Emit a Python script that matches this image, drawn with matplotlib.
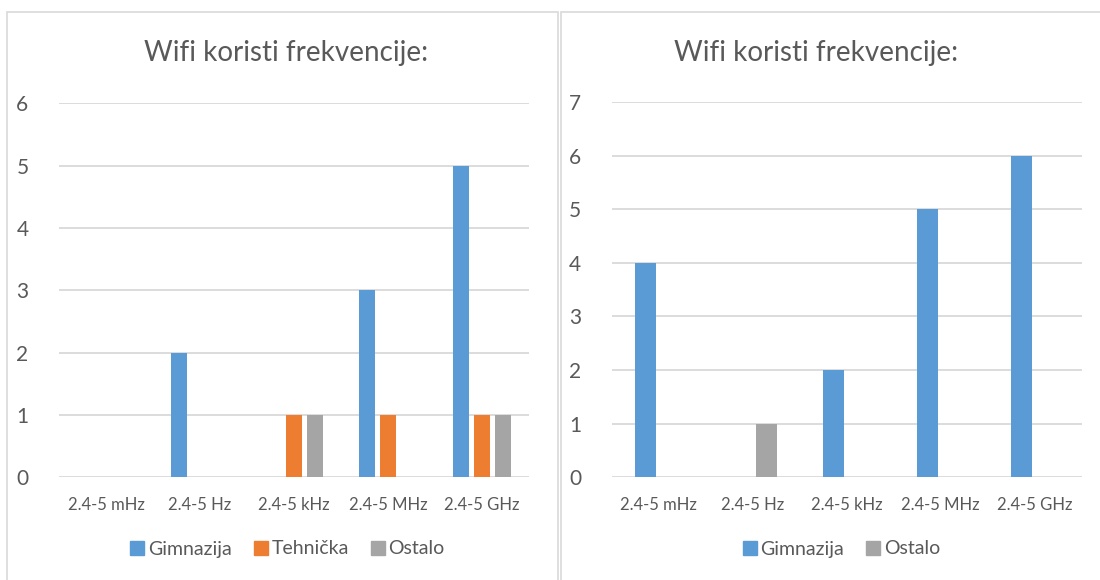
import numpy as np
import matplotlib.pyplot as plt
from matplotlib.patches import Rectangle
from matplotlib.lines import Line2D

# categories and counts
categories = ["2.4-5 mHz", "2.4-5 Hz", "2.4-5 kHz", "2.4-5 MHz", "2.4-5 GHz"]
title = "Wifi koristi frekvencije:"

left_gimnazija = [0, 2, 0, 3, 5]
left_tehnicka = [0, 0, 1, 1, 1]
left_ostalo = [0, 0, 1, 0, 1]

right_gimnazija = [4, 0, 2, 5, 6]
right_ostalo = [0, 1, 0, 0, 0]

BLUE = "#5B9BD5"
ORANGE = "#ED7D31"
GRAY = "#A5A5A5"
TXT = "#595959"
GRID = "#D9D9D9"

plt.rcParams['font.family'] = ['Lato', 'DejaVu Sans']

W, H = 1100, 580
fig = plt.figure(figsize=(11, 5.8), dpi=100)


def fx(px):
    return px / W


def fy(py):
    return 1 - py / H


def style_axes(ax, ymax):
    ax.set_xlim(0, len(categories))
    ax.set_ylim(0, ymax)
    ax.set_yticks(range(ymax + 1))
    ax.set_xticks(np.arange(len(categories)) + 0.5)
    ax.set_xticklabels(categories, fontsize=12, color=TXT)
    ax.tick_params(axis='x', length=0, pad=14)
    ax.tick_params(axis='y', length=0, labelsize=15, labelcolor=TXT, pad=22)
    for s in ax.spines.values():
        s.set_visible(False)
    ax.grid(axis='y', color=GRID, linewidth=1.3)
    ax.set_axisbelow(True)


def draw_legend(cx, labels, colors):
    handles = [Line2D([], [], marker='s', linestyle='none', markersize=10,
                      markerfacecolor=c, markeredgecolor=c) for c in colors]
    fig.legend(handles, labels, loc='center', bbox_to_anchor=(fx(cx), fy(549)),
               ncol=len(labels), frameon=False, fontsize=14, labelcolor=TXT,
               handletextpad=0.05, columnspacing=1.0, handlelength=1.0)


# panel borders
for x0, x1 in [(7, 558), (561, 1105)]:
    fig.add_artist(Rectangle((fx(x0), fy(590)), fx(x1 - x0), fy(12) - fy(590),
                             transform=fig.transFigure, fill=False,
                             edgecolor="#D9D9D9", linewidth=1.2))

x = np.arange(len(categories)) + 0.5

# left chart
ax1 = fig.add_axes([fx(59), fy(477.3), fx(470), fy(103.5) - fy(477.3)])
bw = 0.17
sp = 0.223
ax1.bar(x - sp, left_gimnazija, bw, color=BLUE)
ax1.bar(x, left_tehnicka, bw, color=ORANGE)
ax1.bar(x + sp, left_ostalo, bw, color=GRAY)
style_axes(ax1, 6)
fig.text(fx(286), fy(53), title, ha='center', va='center', fontsize=20, color=TXT)
draw_legend(286, ["Gimnazija", "Tehnička", "Ostalo"], [BLUE, ORANGE, GRAY])

# right chart
ax2 = fig.add_axes([fx(611.7), fy(477.3), fx(470), fy(102) - fy(477.3)])
bw2 = 0.223
sp2 = 0.144
ax2.bar(x - sp2, right_gimnazija, bw2, color=BLUE)
ax2.bar(x + sp2, right_ostalo, bw2, color=GRAY)
style_axes(ax2, 7)
fig.text(fx(816), fy(53), title, ha='center', va='center', fontsize=20, color=TXT)
draw_legend(840, ["Gimnazija", "Ostalo"], [BLUE, GRAY])

fig.savefig("out.png", dpi=100)
